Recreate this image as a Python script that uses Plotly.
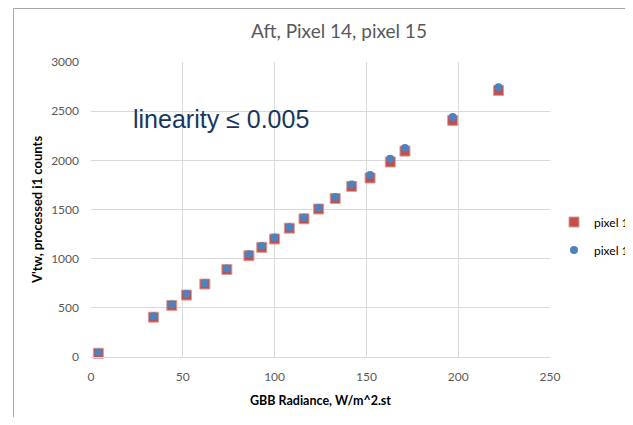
import plotly.graph_objects as go

# GBB radiance (W/m^2.st) and processed i1 counts
radiance = [4, 34, 44, 52, 62, 74, 86, 93, 100, 108, 116, 124, 133, 142, 152, 163, 171, 197, 222]
pixel_14 = [38, 405, 525, 630, 742, 890, 1030, 1115, 1200, 1310, 1405, 1505, 1612, 1735, 1820, 1983, 2094, 2406, 2711]
pixel_15 = [45, 415, 535, 640, 750, 900, 1046, 1130, 1215, 1320, 1418, 1516, 1627, 1753, 1851, 2017, 2125, 2440, 2744]

x_ticks = [0, 50, 100, 150, 200, 250]
y_ticks = [0, 500, 1000, 1500, 2000, 2500, 3000]

# page has an 8px body margin, so the figure is drawn 8px in from the window corner;
# keep the page inside the window so no scrollbar eats the right edge
OFF = 8
W, H = 633 - 2 * OFF, 425 - 2 * OFF
L, R, T, B = 91 - OFF, W - (550 - OFF), 62 - OFF, H - (357 - OFF)
pw, ph = W - L - R, H - T - B


def px_x(p):  # page pixel -> paper x
    return (p - OFF - L) / pw


def px_y(q):  # page pixel -> paper y
    return (H - B - (q - OFF)) / ph


fig = go.Figure()
fig.add_scatter(
    x=radiance, y=pixel_14, mode="markers", name="pixel 14", legend="legend", showlegend=True,
    marker=dict(symbol="square", size=10, color="#C0504D", line=dict(color="#DB9C9A", width=1)),
    cliponaxis=False,
)
fig.add_scatter(
    x=radiance, y=pixel_15, mode="markers", name="pixel 15", legend="legend2", showlegend=True,
    marker=dict(symbol="circle", size=8, color="#4F81BD", line=dict(width=0)),
    cliponaxis=False,
)

axis_font = dict(family="Lato", size=12, color="#595959")
fig.update_xaxes(
    range=[0, 250], tickvals=x_ticks, showgrid=True, gridcolor="#D9D9D9", gridwidth=1,
    zeroline=False, showline=True, linecolor="#D9D9D9", ticks="", tickfont=axis_font,
    ticklabelstandoff=9, automargin=False,
    title=dict(text="GBB Radiance, W/m^2.st", font=dict(family="Lato", size=12.5, color="#000000", weight="bold"), standoff=12),
)
fig.update_yaxes(
    range=[0, 3000], tickvals=y_ticks, showgrid=True, gridcolor="#D9D9D9", gridwidth=1,
    zeroline=False, showline=False, ticks="", tickfont=axis_font,
    ticklabelstandoff=11, automargin=False,
    title=dict(text="V'tw, processed i1 counts", font=dict(family="Lato", size=13, color="#000000", weight="bold"), standoff=5),
)

legend_font = dict(family="Lato", size=12, color="#000000")
fig.update_layout(
    width=W, height=H, autosize=False, showlegend=True,
    margin=dict(l=L, r=R, t=T, b=B, pad=0, autoexpand=False),
    paper_bgcolor="white", plot_bgcolor="white",
    title=dict(
        text="Aft, Pixel 14, pixel 15", font=dict(family="Lato", size=19, color="#595959"),
        xref="paper", x=px_x(339), xanchor="center", yref="container", y=1 - (31 - OFF) / H, yanchor="middle",
    ),
    legend=dict(x=px_x(554), xanchor="left", y=px_y(222), yanchor="middle",
                font=legend_font, bgcolor="rgba(0,0,0,0)", borderwidth=0),
    legend2=dict(x=px_x(554), xanchor="left", y=px_y(250), yanchor="middle",
                 font=legend_font, bgcolor="rgba(0,0,0,0)", borderwidth=0),
    annotations=[
        dict(text="linearity \u2264 0.005", xref="paper", yref="paper", x=px_x(220.5), y=px_y(119),
             xanchor="center", yanchor="middle", showarrow=False,
             font=dict(family="Liberation Sans", size=25, color="#17375E")),
    ],
    shapes=[
        dict(type="line", xref="paper", yref="paper", x0=px_x(13.5), x1=px_x(13.5), y0=px_y(8.5), y1=px_y(425),
             line=dict(color="#A6A6A6", width=1)),
        dict(type="line", xref="paper", yref="paper", x0=px_x(13.5), x1=px_x(633), y0=px_y(8.5), y1=px_y(8.5),
             line=dict(color="#A6A6A6", width=1)),
    ],
)

fig.write_html("out.html")
